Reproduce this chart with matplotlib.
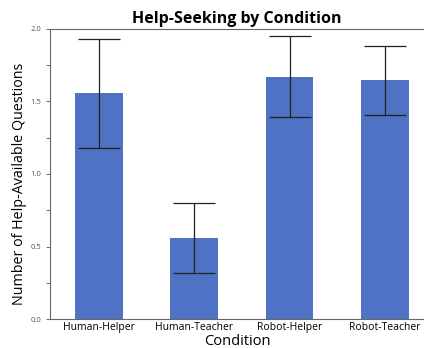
import matplotlib
matplotlib.use('Agg')
import matplotlib.pyplot as plt
from matplotlib.ticker import MultipleLocator

plt.rcParams['font.family'] = ['Open Sans', 'DejaVu Sans']

conditions = ['Human-Helper', 'Human-Teacher', 'Robot-Helper', 'Robot-Teacher']
means = [1.56, 0.56, 1.67, 1.65]
ci_low = [1.18, 0.32, 1.39, 1.41]
ci_high = [1.93, 0.80, 1.95, 1.88]

fig = plt.figure(figsize=(4.24, 3.48), dpi=100)
ax = fig.add_axes([0.118, 0.083, 0.882, 0.834])

x = range(len(conditions))
yerr = [[m - lo for m, lo in zip(means, ci_low)],
        [hi - m for m, hi in zip(means, ci_high)]]
ax.bar(x, means, width=0.5, color='#4f72c4')
ax.errorbar(x, means, yerr=yerr, fmt='none', ecolor='#222222',
            elinewidth=0.9, capsize=15, capthick=0.9)

ax.set_xlim(-0.514, 3.41)
ax.set_ylim(0, 2.0)
ax.yaxis.set_major_locator(MultipleLocator(0.5))
ax.yaxis.set_minor_locator(MultipleLocator(0.25))
ax.set_yticklabels([f'{v:.1f}' for v in ax.get_yticks()])
ax.tick_params(axis='y', which='both', labelsize=5.5, labelcolor='#555555',
               color='#555555', length=3, width=0.6)
ax.set_xticks(list(x))
ax.set_xticklabels(conditions, fontsize=7.5)
ax.tick_params(axis='x', length=0, pad=2)

for side in ['left', 'bottom', 'top']:
    ax.spines[side].set_color('#666666')
    ax.spines[side].set_linewidth(0.8)
ax.spines['right'].set_visible(False)

ax.set_xlabel('Condition', fontsize=10.5, labelpad=1)
ax.set_ylabel('Number of Help-Available Questions', fontsize=10.3)
ax.yaxis.set_label_coords(-0.062, 0.466)
ax.set_title('Help-Seeking by Condition', fontsize=11.5, fontweight='bold', pad=4)

plt.savefig('out.png', dpi=100)
